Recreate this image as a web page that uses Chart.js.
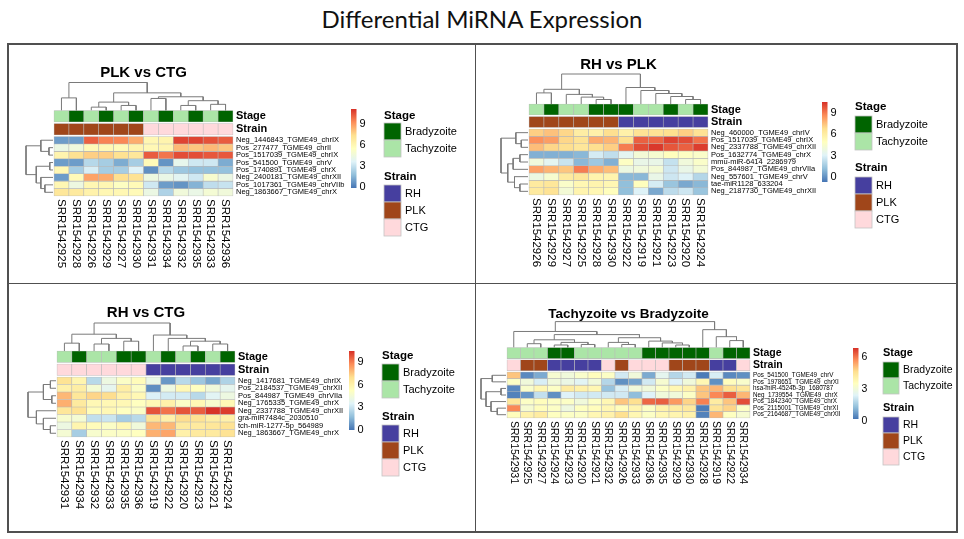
<!DOCTYPE html>
<html>
<head>
<meta charset="utf-8">
<script src="https://cdn.jsdelivr.net/npm/chart.js@4.4.0/dist/chart.umd.min.js"></script>
<style>
  body { margin: 0; background: #fff; width: 964px; height: 539px; position: relative; overflow: hidden; }
  #title { position: absolute; left: 0; top: 4px; width: 964px; text-align: center; font: 24px Lato, 'Open Sans', sans-serif; color: #111; }
  .rule { position: absolute; background: #505050; }
  canvas { position: absolute; }
</style>
</head>
<body>
<div id="title">Differential MiRNA Expression</div>
<div class="rule" style="left:7px;top:43px;width:951px;height:1.6px"></div>
<div class="rule" style="left:7px;top:531px;width:951px;height:1.6px"></div>
<div class="rule" style="left:7px;top:43px;width:1.6px;height:490px"></div>
<div class="rule" style="left:956px;top:43px;width:1.6px;height:490px"></div>
<div class="rule" style="left:474.5px;top:43px;width:1.6px;height:490px"></div>
<div class="rule" style="left:7px;top:282.5px;width:951px;height:1.6px"></div>
<canvas id="plkCtg" width="465" height="237" style="left:9px;top:45px"></canvas>
<canvas id="rhPlk" width="478" height="237" style="left:477px;top:45px"></canvas>
<canvas id="rhCtg" width="465" height="246" style="left:9px;top:285px"></canvas>
<canvas id="tachyBrady" width="478" height="246" style="left:477px;top:285px"></canvas>
<script>
Chart.defaults.font.family = "'Liberation Sans', Arial, sans-serif";
var FONT = "'Liberation Sans', Arial, sans-serif";

// sample groups
var rhSamples = ['SRR1542919', 'SRR1542920', 'SRR1542921', 'SRR1542922', 'SRR1542923', 'SRR1542924'];
var plkSamples = ['SRR1542925', 'SRR1542926', 'SRR1542927', 'SRR1542928', 'SRR1542929', 'SRR1542930'];
var ctgSamples = ['SRR1542931', 'SRR1542932', 'SRR1542933', 'SRR1542934', 'SRR1542935', 'SRR1542936'];
var bradyzoiteSamples = ['SRR1542922', 'SRR1542923', 'SRR1542924', 'SRR1542928', 'SRR1542929', 'SRR1542930', 'SRR1542934', 'SRR1542935', 'SRR1542936'];
var stageLevels = ['Bradyzoite', 'Tachyzoite'];
var strainLevels = ['RH', 'PLK', 'CTG'];
var stageColors = ['#006400', '#ABE5A7'];
var strainColors = ['#463F9F', '#A0461A', '#FFD9DC'];
var heatPalette = ['#4575B4', '#91BFDB', '#E0F3F8', '#FFFFBF', '#FEE090', '#FC8D59', '#D73027'];

// PLK vs CTG
var plkCtgSamples = ['SRR1542925', 'SRR1542928', 'SRR1542926', 'SRR1542929', 'SRR1542927', 'SRR1542930',
    'SRR1542931', 'SRR1542934', 'SRR1542932', 'SRR1542935', 'SRR1542933', 'SRR1542936'];
var plkCtgGenes = ['Neg_1446843_TGME49_chrIX', 'Pos_277477_TGME49_chrII', 'Pos_1517039_TGME49_chrIX', 'Pos_541500_TGME49_chrV',
    'Pos_1740891_TGME49_chrX', 'Neg_2400181_TGME49_chrXII', 'Pos_1017361_TGME49_chrVIIb', 'Neg_1863667_TGME49_chrX'];
var plkCtgValues = [
    [0.8, 0.8, 10.2, 9.5, 9.4, 8.6, 6.0, 6.2, 10.8, 10.8, 10.5, 10.3],
    [4.3, 4.5, 5.8, 5.9, 5.8, 6.2, 5.9, 6.1, 8.3, 8.0, 8.3, 8.0],
    [6.2, 7.3, 7.8, 7.8, 7.3, 7.0, 10.3, 9.8, 10.6, 10.6, 10.4, 10.4],
    [0.8, 0.8, 2.6, 2.2, 1.2, 2.2, 5.8, 0.6, 4.0, 3.2, 3.2, 1.2],
    [6.0, 2.2, 3.4, 2.2, 2.2, 3.6, 0.5, 2.6, 2.0, 1.8, 1.8, 1.8],
    [0.8, 5.8, 8.8, 8.6, 7.4, 7.2, 4.4, 4.2, 3.8, 3.2, 5.0, 4.3],
    [6.0, 4.4, 6.0, 6.0, 5.4, 5.8, 3.2, 0.8, 0.6, 1.4, 2.8, 3.0],
    [7.0, 6.8, 6.3, 6.0, 6.0, 5.8, 4.3, 2.4, 4.6, 4.2, 4.8, 4.6]
];
var plkCtgRange = [-0.2, 11.2];
var plkCtgTicks = [0, 3, 6, 9];
var plkCtgColTree = [1, [0.45, 0, 1], [0.63, [0.3, [0.12, 2, 3], [0.18, 4, 5]], [0.49, [0.43, 6, 7], [0.35, [0.18, 8, 9], [0.22, 10, 11]]]]];
var plkCtgRowTree = [1, [0.45, 0, [0.15, 1, 2]], [0.62, [0.12, 3, 4], [0.45, 5, [0.3, 6, 7]]]];

// RH vs PLK
var rhPlkSamples = ['SRR1542926', 'SRR1542929', 'SRR1542927', 'SRR1542925', 'SRR1542928', 'SRR1542930',
    'SRR1542922', 'SRR1542919', 'SRR1542921', 'SRR1542923', 'SRR1542920', 'SRR1542924'];
var rhPlkGenes = ['Neg_460000_TGME49_chrIV', 'Pos_1517039_TGME49_chrIX', 'Neg_2337788_TGME49_chrXII', 'Pos_1632774_TGME49_chrX',
    'mmu-miR-6414_2286979', 'Pos_844987_TGME49_chrVIIa', 'Neg_557601_TGME49_chrV', 'tae-miR1128_633204', 'Neg_2187730_TGME49_chrXII'];
var rhPlkValues = [
    [7.2, 7.5, 7.0, 6.0, 5.8, 6.8, 5.8, 6.6, 6.6, 6.8, 7.2, 6.6],
    [8.6, 8.3, 7.0, 6.6, 8.0, 7.8, 6.8, 9.6, 9.5, 10.2, 10.0, 9.2],
    [7.6, 7.0, 6.8, 6.4, 6.8, 7.2, 9.0, 10.0, 10.4, 9.8, 9.6, 10.3],
    [0.8, 0.8, 0.8, 1.0, 2.8, 2.3, 3.3, 4.2, 4.4, 5.0, 4.8, 4.6],
    [4.0, 3.3, 2.5, 1.0, 1.5, 0.8, 4.8, 3.6, 3.6, 2.4, 4.0, 4.6],
    [8.2, 7.8, 7.4, 9.0, 8.0, 7.6, 3.8, 4.0, 4.2, 2.6, 3.6, 4.2],
    [3.8, 4.4, 6.2, 6.4, 5.6, 5.6, 1.0, 1.0, 3.6, 2.6, 3.0, 2.0],
    [6.2, 6.4, 4.6, 5.4, 5.6, 5.4, 1.2, 5.0, 2.8, 1.4, 0.6, 1.0],
    [6.2, 6.6, 4.2, 5.6, 5.4, 5.0, 1.2, 3.0, 0.6, 2.2, 2.6, 1.4]
];
var rhPlkRange = [-0.7, 10.56];
var rhPlkTicks = [0, 3, 6, 9];
var rhPlkColTree = [1, [0.49, [0.37, 0, 1], [0.32, 2, [0.23, 3, [0.15, 4, 5]]]], [0.55, 6, [0.45, 7, [0.35, 8, [0.25, 9, [0.15, 10, 11]]]]]];
var rhPlkRowTree = [1, [0.45, 0, [0.25, 1, 2]], [0.75, [0.55, [0.3, 3, 4], 5], [0.5, 6, [0.3, 7, 8]]]];

// RH vs CTG
var rhCtgSamples = ['SRR1542931', 'SRR1542934', 'SRR1542932', 'SRR1542933', 'SRR1542935', 'SRR1542936',
    'SRR1542919', 'SRR1542922', 'SRR1542920', 'SRR1542923', 'SRR1542921', 'SRR1542924'];
var rhCtgGenes = ['Neg_1417681_TGME49_chrIX', 'Pos_2184537_TGME49_chrXII', 'Pos_844987_TGME49_chrVIIa', 'Neg_1765335_TGME49_chrX',
    'Neg_2337788_TGME49_chrXII', 'gra-miR7484c_2030510', 'tch-miR-1277-5p_564989', 'Neg_1863667_TGME49_chrX'];
var rhCtgValues = [
    [6.8, 5.8, 2.6, 4.2, 5.0, 5.4, 4.0, 0.8, 2.6, 2.0, 1.2, 2.4],
    [6.0, 6.2, 4.6, 3.8, 6.2, 5.0, 0.6, 4.2, 5.6, 5.2, 4.4, 3.8],
    [7.8, 6.6, 7.2, 7.0, 6.0, 5.6, 3.4, 3.2, 3.2, 2.6, 3.6, 4.2],
    [8.0, 6.4, 5.6, 5.6, 5.6, 5.2, 5.6, 6.0, 5.0, 5.6, 4.8, 5.6],
    [6.6, 6.8, 5.4, 5.6, 5.2, 5.0, 9.8, 9.2, 9.8, 9.6, 10.4, 10.2],
    [4.8, 4.6, 2.8, 3.0, 2.2, 2.6, 6.8, 6.0, 7.0, 6.8, 6.2, 6.0],
    [4.2, 5.8, 5.4, 5.0, 5.6, 4.4, 7.8, 7.8, 6.4, 6.4, 6.6, 6.8],
    [4.6, 2.2, 4.8, 5.0, 5.0, 5.2, 8.0, 8.2, 6.0, 6.4, 6.4, 6.8]
];
var rhCtgRange = [0, 10.45];
var rhCtgTicks = [0, 3, 6, 9];
var rhCtgColTree = [1, [0.6, [0.28, 0, 1], [0.45, [0.25, 2, 3], [0.35, 4, 5]]], [0.57, 6, [0.45, 7, [0.35, [0.18, 8, 9], [0.25, 10, 11]]]]];
var rhCtgRowTree = [1, [0.45, [0.2, 0, 1], [0.15, 2, 3]], [0.7, 4, [0.45, 5, [0.2, 6, 7]]]];

// Tachyzoite vs Bradyzoite
var tachyBradySamples = ['SRR1542931', 'SRR1542925', 'SRR1542927', 'SRR1542924', 'SRR1542923', 'SRR1542920', 'SRR1542921',
    'SRR1542932', 'SRR1542926', 'SRR1542933', 'SRR1542936', 'SRR1542935', 'SRR1542929', 'SRR1542930', 'SRR1542928',
    'SRR1542919', 'SRR1542922', 'SRR1542934'];
var tachyBradyGenes = ['Pos_541500_TGME49_chrV', 'Pos_1978651_TGME49_chrXI', 'hsa-miR-4524b-3p_1680787', 'Neg_1739554_TGME49_chrX',
    'Pos_1842340_TGME49_chrX', 'Pos_2115001_TGME49_chrXI', 'Pos_2164687_TGME49_chrXII'];
var tachyBradyValues = [
    [5.0, 0.5, 1.0, 3.2, 3.0, 3.3, 3.6, 3.4, 2.2, 3.0, 1.0, 2.6, 1.8, 2.2, 0.3, 2.3, 0.5, 0.6],
    [3.4, 3.0, 2.3, 3.0, 2.8, 2.5, 3.0, 1.8, 0.6, 0.9, 2.2, 3.2, 2.4, 3.0, 3.8, 0.6, 3.6, 3.3],
    [0.5, 3.3, 3.8, 3.4, 4.2, 4.0, 3.8, 1.4, 2.3, 3.0, 3.0, 3.4, 3.8, 4.0, 5.0, 5.2, 4.6, 4.4],
    [0.4, 0.7, 2.0, 0.6, 2.4, 2.2, 2.2, 2.2, 2.2, 1.3, 2.4, 3.0, 3.0, 3.4, 5.0, 5.8, 6.3, 5.2],
    [4.4, 3.4, 3.6, 3.4, 3.4, 3.0, 3.4, 3.8, 5.0, 4.6, 6.2, 6.3, 5.6, 4.8, 5.9, 4.2, 5.0, 6.5],
    [5.8, 3.2, 3.6, 3.4, 2.9, 3.5, 3.6, 3.8, 3.6, 3.9, 3.4, 4.0, 4.2, 4.3, 0.3, 4.5, 4.8, 3.4],
    [3.6, 4.0, 4.2, 3.5, 3.4, 3.4, 3.8, 4.0, 4.6, 3.8, 3.4, 3.8, 3.9, 4.0, 0.4, 5.2, 3.5, 3.2]
];
var tachyBradyRange = [0.2, 6.85];
var tachyBradyTicks = [0, 3, 6];
var tachyBradyColTree = [1,
    [0.62, 0, [0.5,
        [0.3, [0.15, 1, 2], [0.2, [0.1, 3, 4], [0.12, 5, 6]]],
        [0.38, [0.2, 7, [0.12, 8, 9]], [0.25, 10, [0.18, 11, [0.1, 12, 13]]]]]],
    [0.69, 14, [0.42, 15, [0.27, 16, 17]]]];
var tachyBradyRowTree = [1, [0.55, 0, 1], [0.8, [0.2, 2, 3], [0.6, 4, [0.35, 5, 6]]]];

function hexToRgb(h) {
    return [parseInt(h.slice(1, 3), 16), parseInt(h.slice(3, 5), 16), parseInt(h.slice(5, 7), 16)];
}

function heatColor(v, range) {
    var t = (v - range[0]) / (range[1] - range[0]);
    t = Math.max(0, Math.min(1, t)) * (heatPalette.length - 1);
    var i = Math.min(Math.floor(t), heatPalette.length - 2);
    var f = t - i;
    var a = hexToRgb(heatPalette[i]), b = hexToRgb(heatPalette[i + 1]);
    return 'rgb(' + a.map(function (c, k) { return Math.round(c + (b[k] - c) * f); }).join(',') + ')';
}

function stageOf(s) { return bradyzoiteSamples.indexOf(s) >= 0 ? 0 : 1; }
function strainOf(s) { return rhSamples.indexOf(s) >= 0 ? 0 : (plkSamples.indexOf(s) >= 0 ? 1 : 2); }

// walk a [height, left, right] tree and return line points, null breaks between links
function dendroPoints(tree, toXY) {
    var pts = [];
    function walk(node) {
        if (typeof node === 'number') return { pos: node + 0.5, h: 0 };
        var l = walk(node[1]), r = walk(node[2]), h = node[0];
        pts.push(toXY(l.pos, l.h), toXY(l.pos, h), toXY(r.pos, h), toXY(r.pos, r.h), { x: 0, y: null });
        return { pos: (l.pos + r.pos) / 2, h: h };
    }
    walk(tree);
    return pts;
}

function makePanel(id, p) {
    var nCols = p.samples.length, nRows = p.genes.length;
    var cv = p.canvas, hm = p.heat;
    var cw = (hm.x1 - hm.x0) / nCols;
    var ch = (hm.y1 - hm.y0) / nRows;
    var xMin = -(hm.x0 - cv.left) / cw;
    var xMax = nCols + (cv.left + cv.width - hm.x1) / cw;
    var yMin = -(hm.y0 - cv.top) / ch;
    var yMax = nRows + (cv.top + cv.height - hm.y1) / ch;

    var strainBottom = -p.annGap / ch;
    var strainTop = strainBottom - p.annH / ch;
    var stageBottom = strainTop - p.annGap / ch;
    var stageTop = stageBottom - p.annH / ch;

    var cellStyle = { type: 'bar', borderColor: '#b8b8b8', borderWidth: 0.6, borderSkipped: false,
        grouped: false, barPercentage: 1, categoryPercentage: 1 };
    var datasets = [];
    p.values.forEach(function (vals, r) {
        datasets.push(Object.assign({}, cellStyle, {
            data: vals.map(function (v, i) { return { x: i + 0.5, y: [r, r + 1] }; }),
            backgroundColor: vals.map(function (v) { return heatColor(v, p.range); })
        }));
    });
    datasets.push(Object.assign({}, cellStyle, {
        data: p.samples.map(function (s, i) { return { x: i + 0.5, y: [stageTop, stageBottom] }; }),
        backgroundColor: p.samples.map(function (s) { return stageColors[stageOf(s)]; })
    }));
    datasets.push(Object.assign({}, cellStyle, {
        data: p.samples.map(function (s, i) { return { x: i + 0.5, y: [strainTop, strainBottom] }; }),
        backgroundColor: p.samples.map(function (s) { return strainColors[strainOf(s)]; })
    }));
    var lineStyle = { type: 'line', borderColor: '#7a7a7a', borderWidth: 1, pointRadius: 0, spanGaps: false, tension: 0, fill: false };
    datasets.push(Object.assign({}, lineStyle, {
        data: dendroPoints(p.colTree, function (pos, h) { return { x: pos, y: stageTop - h * p.dendroH / ch }; })
    }));
    datasets.push(Object.assign({}, lineStyle, {
        data: dendroPoints(p.rowTree, function (pos, h) { return { x: -(1 + h * p.dendroW) / cw, y: pos }; })
    }));

    var decor = {
        id: 'decor',
        afterDatasetsDraw: function (chart) {
            var ctx = chart.ctx, xs = chart.scales.x, ys = chart.scales.y;
            var right = xs.getPixelForValue(nCols);
            ctx.save();
            ctx.fillStyle = '#000';
            // panel title
            ctx.font = 'bold ' + p.titleSize + 'px ' + FONT;
            ctx.textAlign = 'center';
            ctx.textBaseline = 'middle';
            ctx.fillText(p.title, xs.getPixelForValue(nCols / 2), p.titleY - cv.top);
            // annotation names and gene names
            ctx.textAlign = 'left';
            ctx.font = 'bold ' + p.annFont + 'px ' + FONT;
            ctx.fillText('Stage', right + 3, ys.getPixelForValue((stageTop + stageBottom) / 2));
            ctx.fillText('Strain', right + 3, ys.getPixelForValue((strainTop + strainBottom) / 2));
            ctx.font = p.rowFont + 'px ' + FONT;
            p.genes.forEach(function (g, r) {
                ctx.fillText(g, right + 3, ys.getPixelForValue(r + 0.5));
            });
            // sample names, rotated
            ctx.font = p.colFont + 'px ' + FONT;
            p.samples.forEach(function (s, i) {
                ctx.save();
                ctx.translate(xs.getPixelForValue(i + 0.5), ys.getPixelForValue(nRows) + 3);
                ctx.rotate(Math.PI / 2);
                ctx.fillText(s, 0, 0);
                ctx.restore();
            });
            // colour key
            var cb = p.cbar, cx = cb.x - cv.left, ct = cb.top - cv.top, cbot = cb.bottom - cv.top;
            var grad = ctx.createLinearGradient(0, cbot, 0, ct);
            heatPalette.forEach(function (c, k) { grad.addColorStop(k / (heatPalette.length - 1), c); });
            ctx.fillStyle = grad;
            ctx.fillRect(cx, ct, cb.w, cbot - ct);
            ctx.fillStyle = '#000';
            ctx.font = p.keyFont + 'px ' + FONT;
            p.ticks.forEach(function (t) {
                var y = cbot - (t - p.range[0]) / (p.range[1] - p.range[0]) * (cbot - ct);
                ctx.fillText(String(t), cx + cb.w + 3, y);
            });
            // annotation legend
            var lg = p.legend, lx = lg.x - cv.left;
            function block(title, titleY, boxTop, levels, colors) {
                ctx.font = 'bold ' + lg.titleFont + 'px ' + FONT;
                ctx.fillStyle = '#000';
                ctx.fillText(title, lx, titleY - cv.top);
                levels.forEach(function (name, k) {
                    var y = boxTop - cv.top + k * lg.box;
                    ctx.fillStyle = colors[k];
                    ctx.fillRect(lx, y, lg.box, lg.box);
                    ctx.strokeStyle = '#c4c4c4';
                    ctx.lineWidth = 0.8;
                    ctx.strokeRect(lx, y, lg.box, lg.box);
                    ctx.fillStyle = '#000';
                    ctx.font = lg.font + 'px ' + FONT;
                    ctx.fillText(name, lx + lg.box + 4, y + lg.box / 2);
                });
            }
            block('Stage', lg.stageY, lg.stageTop, stageLevels, stageColors);
            block('Strain', lg.strainY, lg.strainTop, strainLevels, strainColors);
            ctx.restore();
        }
    };

    return new Chart(document.getElementById(id), {
        type: 'bar',
        data: { datasets: datasets },
        options: {
            responsive: false,
            animation: false,
            events: [],
            layout: { padding: 0 },
            plugins: { legend: { display: false }, tooltip: { enabled: false }, title: { display: false } },
            scales: {
                x: {
                    type: 'linear', min: xMin, max: xMax, offset: false, display: false,
                    afterBuildTicks: function (scale) {
                        scale.ticks = p.samples.map(function (s, i) { return { value: i + 0.5 }; });
                    }
                },
                y: { type: 'linear', min: yMin, max: yMax, reverse: true, display: false }
            }
        },
        plugins: [decor]
    });
}

makePanel('plkCtg', {
    title: 'PLK vs CTG', samples: plkCtgSamples, genes: plkCtgGenes, values: plkCtgValues,
    range: plkCtgRange, ticks: plkCtgTicks, colTree: plkCtgColTree, rowTree: plkCtgRowTree,
    canvas: { left: 9, top: 45, width: 465, height: 237 },
    heat: { x0: 54, x1: 233, y0: 136.5, y1: 196 },
    annH: 11.5, annGap: 1.5, dendroH: 28, dendroW: 27,
    titleY: 73, titleSize: 15, annFont: 11, rowFont: 7.5, colFont: 11.5, keyFont: 11,
    cbar: { x: 351, w: 5.5, top: 109, bottom: 188 },
    legend: { x: 384, stageY: 116, stageTop: 123, strainY: 177, strainTop: 185, box: 17, font: 11, titleFont: 11.5 }
});

makePanel('rhPlk', {
    title: 'RH vs PLK', samples: rhPlkSamples, genes: rhPlkGenes, values: rhPlkValues,
    range: rhPlkRange, ticks: rhPlkTicks, colTree: rhPlkColTree, rowTree: rhPlkRowTree,
    canvas: { left: 477, top: 45, width: 478, height: 237 },
    heat: { x0: 529, x1: 708, y0: 129, y1: 195 },
    annH: 11, annGap: 1.5, dendroH: 30, dendroW: 27,
    titleY: 65, titleSize: 15, annFont: 11, rowFont: 7.5, colFont: 11.5, keyFont: 11,
    cbar: { x: 822, w: 5.5, top: 102, bottom: 182 },
    legend: { x: 855, stageY: 107, stageTop: 116, strainY: 168, strainTop: 177, box: 17, font: 11, titleFont: 11.5 }
});

makePanel('rhCtg', {
    title: 'RH vs CTG', samples: rhCtgSamples, genes: rhCtgGenes, values: rhCtgValues,
    range: rhCtgRange, ticks: rhCtgTicks, colTree: rhCtgColTree, rowTree: rhCtgRowTree,
    canvas: { left: 9, top: 285, width: 465, height: 246 },
    heat: { x0: 57, x1: 235, y0: 377, y1: 437 },
    annH: 11.5, annGap: 1.5, dendroH: 28, dendroW: 28,
    titleY: 313, titleSize: 15, annFont: 11, rowFont: 7.5, colFont: 11.5, keyFont: 11,
    cbar: { x: 349, w: 5.5, top: 351, bottom: 430 },
    legend: { x: 382, stageY: 356, stageTop: 364, strainY: 417, strainTop: 425, box: 17, font: 11, titleFont: 11.5 }
});

makePanel('tachyBrady', {
    title: 'Tachyzoite vs Bradyzoite', samples: tachyBradySamples, genes: tachyBradyGenes, values: tachyBradyValues,
    range: tachyBradyRange, ticks: tachyBradyTicks, colTree: tachyBradyColTree, rowTree: tachyBradyRowTree,
    canvas: { left: 477, top: 285, width: 478, height: 246 },
    heat: { x0: 507, x1: 750, y0: 372, y1: 418 },
    annH: 11, annGap: 1.2, dendroH: 26, dendroW: 25,
    titleY: 314, titleSize: 13.5, annFont: 10.5, rowFont: 6.3, colFont: 10.5, keyFont: 10.5,
    cbar: { x: 853, w: 5.5, top: 348, bottom: 419 },
    legend: { x: 883, stageY: 353, stageTop: 362, strainY: 408, strainTop: 417, box: 16, font: 10.5, titleFont: 11 }
});
</script>
</body>
</html>
